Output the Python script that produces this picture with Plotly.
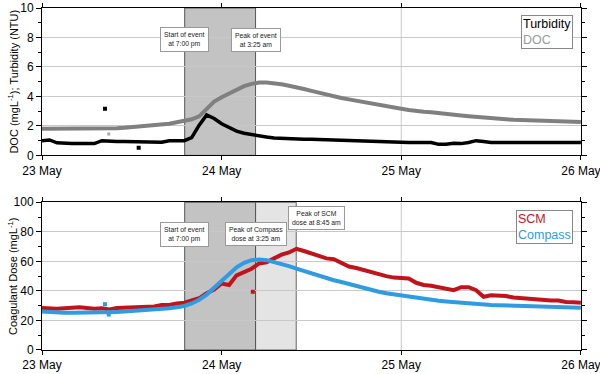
import pandas as pd
import plotly.graph_objects as go
from plotly.subplots import make_subplots

# hourly timestamps 23 May 00:00 .. 26 May 00:00
times = pd.date_range("2020-05-23 00:00", "2020-05-26 00:00", freq="1h")

turbidity = [1.0, 1.05, 0.85, 0.8, 0.8, 0.8, 0.8, 0.8, 1.0, 0.95,
             0.95, 0.95, 0.95, 0.9, 0.9, 0.9, 0.9, 1.0, 1.0, 1.0,
             1.2, 2.05, 2.75, 2.5, 2.15, 1.9, 1.65, 1.5, 1.4, 1.33,
             1.25, 1.18, 1.15, 1.12, 1.12, 1.1, 1.1, 1.08, 1.07, 1.02,
             1.0, 1.0, 1.0, 0.98, 0.93, 0.92, 0.9, 0.88, 0.88, 0.88,
             0.88, 0.88, 0.88, 0.75, 0.75, 0.82, 0.8, 0.88, 1.0, 0.95,
             0.88, 0.88, 0.88, 0.88, 0.88, 0.88, 0.88, 0.88, 0.9, 0.88,
             0.88, 0.88, 0.88]
doc = [1.8, 1.8, 1.8, 1.8, 1.8, 1.8, 1.8, 1.8, 1.8, 1.82,
       1.85, 1.88, 1.92, 1.96, 2.0, 2.03, 2.08, 2.15, 2.25, 2.33,
       2.45, 2.65, 3.15, 3.65, 3.95, 4.2, 4.5, 4.7, 4.85, 4.95,
       4.95, 4.9, 4.82, 4.72, 4.64, 4.5, 4.38, 4.25, 4.12, 4.0,
       3.9, 3.8, 3.7, 3.6, 3.52, 3.42, 3.32, 3.24, 3.16, 3.08,
       3.0, 2.96, 2.92, 2.88, 2.82, 2.76, 2.7, 2.65, 2.6, 2.55,
       2.52, 2.48, 2.45, 2.42, 2.4, 2.4, 2.38, 2.36, 2.33, 2.3,
       2.28, 2.27, 2.27]
scm = [28.5, 28.0, 28.0, 28.3, 28.5, 29.0, 28.5, 28.0, 28.2, 27.5,
       28.5, 28.7, 28.7, 29.0, 29.0, 29.5, 30.5, 30.5, 31.5, 32.0,
       33.5, 35.0, 38.5, 41.0, 45.0, 44.0, 50.5, 53.0, 55.0, 58.6,
       59.3, 62.0, 64.5, 66.0, 68.5, 67.0, 65.5, 63.5, 62.0, 61.5,
       59.0, 56.5, 55.5, 54.0, 52.5, 51.5, 50.0, 49.0, 48.4, 48.4,
       45.5, 44.0, 43.5, 42.5, 41.5, 40.5, 42.5, 42.5, 40.5, 36.0,
       37.0, 37.0, 36.5, 35.5, 35.0, 34.5, 34.0, 34.0, 33.5, 33.5,
       32.5, 32.3, 32.0]
compass = [26.0, 25.6, 25.3, 25.2, 25.2, 25.2, 25.2, 25.2, 25.2, 25.6,
           25.8, 26.0, 26.3, 26.6, 27.0, 27.3, 27.8, 28.3, 29.0, 29.8,
           31.5, 34.0, 37.5, 42.0, 46.5, 51.5, 56.0, 59.0, 60.8, 61.3,
           60.8, 59.5, 58.3, 56.8, 55.1, 53.5, 52.0, 50.2, 48.4, 47.2,
           46.0, 44.6, 43.2, 41.8, 40.6, 39.4, 38.4, 37.6, 36.8, 36.0,
           35.2, 34.5, 33.9, 33.3, 32.8, 32.3, 31.8, 31.4, 31.0, 30.7,
           30.4, 30.3, 30.2, 30.1, 30.0, 29.9, 29.7, 29.5, 29.2, 29.0,
           28.8, 28.7, 28.6]

# isolated outlier readings
turb_out_t = ["2020-05-23 08:25", "2020-05-23 12:55"]
turb_out_v = [3.17, 0.52]
doc_out_t = ["2020-05-23 08:55"]
doc_out_v = [1.46]
scm_out_t = ["2020-05-24 04:10"]
scm_out_v = [39.4]
comp_out_t = ["2020-05-23 08:25", "2020-05-23 08:55"]
comp_out_v = [31.0, 24.0]

day_ticks = ["2020-05-23", "2020-05-24", "2020-05-25", "2020-05-26"]
day_labels = ["23 May", "24 May", "25 May", "26 May"]

event_start = "2020-05-23 19:04"
event_peak = "2020-05-24 04:32"
scm_peak = "2020-05-24 09:58"
scm_label_at = "2020-05-24 12:44"

BLACK = "#000000"
GREY = "#808080"
RED = "#c0141c"
BLUE = "#2f9be0"
FONT = "Liberation Sans, Arial"

fig = make_subplots(rows=2, cols=1, vertical_spacing=0.137)

fig.add_trace(go.Scatter(x=times, y=doc, mode="lines", line=dict(color=GREY, width=4),
                         showlegend=False), row=1, col=1)
fig.add_trace(go.Scatter(x=times, y=turbidity, mode="lines", line=dict(color=BLACK, width=3.5),
                         showlegend=False), row=1, col=1)
fig.add_trace(go.Scatter(x=turb_out_t, y=turb_out_v, mode="markers",
                         marker=dict(color=BLACK, size=4, symbol="square"), showlegend=False), row=1, col=1)
fig.add_trace(go.Scatter(x=doc_out_t, y=doc_out_v, mode="markers",
                         marker=dict(color="#aaaaaa", size=3, symbol="square"), showlegend=False), row=1, col=1)

fig.add_trace(go.Scatter(x=times, y=scm, mode="lines", line=dict(color=RED, width=4),
                         showlegend=False), row=2, col=1)
fig.add_trace(go.Scatter(x=times, y=compass, mode="lines", line=dict(color=BLUE, width=4),
                         showlegend=False), row=2, col=1)
fig.add_trace(go.Scatter(x=scm_out_t, y=scm_out_v, mode="markers",
                         marker=dict(color=RED, size=4, symbol="square"), showlegend=False), row=2, col=1)
fig.add_trace(go.Scatter(x=comp_out_t, y=comp_out_v, mode="markers",
                         marker=dict(color=BLUE, size=4, symbol="square"), showlegend=False), row=2, col=1)

# shaded event windows
fig.add_shape(type="rect", xref="x", yref="y domain", x0=event_start, x1=event_peak, y0=0, y1=1,
              fillcolor="#c3c3c3", line=dict(color="#555555", width=1), layer="below")
fig.add_shape(type="rect", xref="x2", yref="y2 domain", x0=event_peak, x1=scm_peak, y0=0, y1=1,
              fillcolor="#e4e4e4", line=dict(color="#666666", width=1), layer="below")
fig.add_shape(type="rect", xref="x2", yref="y2 domain", x0=event_start, x1=event_peak, y0=0, y1=1,
              fillcolor="#c3c3c3", line=dict(color="#555555", width=1), layer="below")
# vertical gridline at 25 May
for xr, yr in (("x", "y domain"), ("x2", "y2 domain")):
    fig.add_shape(type="line", xref=xr, yref=yr, x0=day_ticks[2], x1=day_ticks[2], y0=0, y1=1,
                  line=dict(color="#c8c8c8", width=1), layer="below")

box = dict(showarrow=False, bgcolor="white", bordercolor="#999999", borderwidth=1, borderpad=3,
           font=dict(size=6.8, color="#222222", family=FONT))
fig.add_annotation(x=event_start, y=7.85, xref="x", yref="y", text="Start of event<br>at 7:00 pm", **box)
fig.add_annotation(x=event_peak, y=7.85, xref="x", yref="y", text="Peak of event<br>at 3:25 am", **box)
fig.add_annotation(x=event_start, y=78.2, xref="x2", yref="y2", text="Start of event<br>at 7:00 pm", **box)
fig.add_annotation(x=event_peak, y=78.2, xref="x2", yref="y2", text="Peak of Compass<br>dose at 3:25 am", **box)
fig.add_annotation(x=scm_label_at, y=89.6, xref="x2", yref="y2", text="Peak of SCM<br>dose at 8:45 am", **box)

# legends drawn as boxed text
fig.add_annotation(x=0.985, y=0.95, xref="x domain", yref="y domain", xanchor="right", yanchor="top",
                   text="<span style='color:#000'>Turbidity</span><br><span style='color:#9a9a9a'>DOC</span>",
                   showarrow=False, align="left", bgcolor="white", bordercolor="#888888", borderwidth=1,
                   borderpad=1, font=dict(size=12.5, family=FONT))
fig.add_annotation(x=0.985, y=0.95, xref="x2 domain", yref="y2 domain", xanchor="right", yanchor="top",
                   text=f"<span style='color:{RED}'>SCM</span><br><span style='color:{BLUE}'>Compass</span>",
                   showarrow=False, align="left", bgcolor="white", bordercolor="#888888", borderwidth=1,
                   borderpad=1, font=dict(size=12.5, family=FONT))

# y-axis titles
fig.add_annotation(x=-0.054, y=0.5, xref="paper", yref="y domain", textangle=-90, showarrow=False,
                   xanchor="center", yanchor="middle",
                   text="DOC (mgL<sup>-1</sup>); Turbidity (NTU)", font=dict(size=11, family=FONT))
fig.add_annotation(x=-0.054, y=0.5, xref="paper", yref="y2 domain", textangle=-90, showarrow=False,
                   xanchor="center", yanchor="middle",
                   text="Coagulant Dose (mgL<sup>-1</sup>)", font=dict(size=11, family=FONT))

axfont = dict(size=12, family=FONT, color="black")
for r in (1, 2):
    fig.update_xaxes(row=r, col=1, range=["2020-05-23", "2020-05-26 00:01"], tickvals=day_ticks,
                     ticktext=day_labels, showgrid=False, showline=True, linecolor="black", linewidth=1,
                     mirror="ticks", ticks="outside", ticklen=4, tickcolor="black", tickfont=axfont,
                     zeroline=False, automargin=False, ticklabeloverflow="allow")
fig.update_yaxes(row=1, col=1, range=[0, 10], dtick=2, minor=dict(ticks="outside", ticklen=3, dtick=1,
                 tickcolor="black"))
fig.update_yaxes(row=2, col=1, range=[0, 100], dtick=20, minor=dict(ticks="outside", ticklen=3, dtick=10,
                 tickcolor="black"))
fig.update_yaxes(showgrid=True, gridcolor="#c8c8c8", gridwidth=1, showline=True, linecolor="black",
                 linewidth=1, mirror="ticks", ticks="outside", ticklen=5, tickcolor="black",
                 tickfont=axfont, zeroline=False, automargin=False, ticklabeloverflow="allow")

fig.update_layout(width=600, height=374, margin=dict(l=42, r=19, t=8, b=24),
                  plot_bgcolor="white", paper_bgcolor="white",
                  font=dict(family=FONT, color="black"))
fig.update_yaxes(domain=[0.569, 1.0], row=1, col=1)
fig.update_yaxes(domain=[0.0, 0.432], row=2, col=1)

fig.write_html("out.html", config={"displayModeBar": False},
               post_script="document.body.style.margin='0px';")
